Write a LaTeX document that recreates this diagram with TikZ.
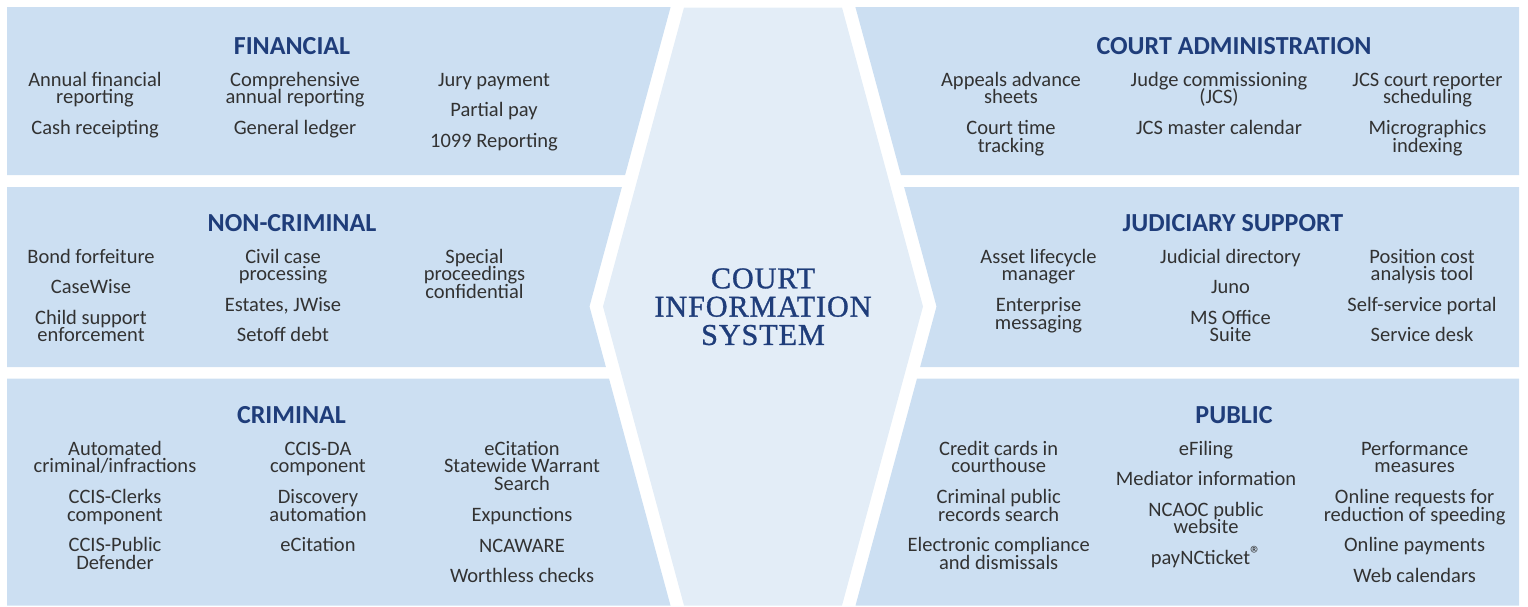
\documentclass[tikz,border=0pt]{standalone}
\usepackage{fontspec}
\setmainfont{Carlito}
\newfontfamily\titlefont[LetterSpace=3,FakeBold=1]{Liberation Serif}

\definecolor{panelblue}{RGB}{204,223,242}
\definecolor{hexblue}{RGB}{227,237,247}
\definecolor{headblue}{RGB}{31,61,122}
\definecolor{itemgray}{RGB}{50,50,50}

% multi-line nodes sit on the baseline of their last line
\tikzset{
  panel/.style={fill=panelblue},
  hexa/.style={fill=hexblue},
  head/.style={anchor=base, inner sep=0pt, text=headblue,
    font=\fontsize{26}{28}\selectfont\bfseries},
  itm/.style={anchor=base, inner sep=0pt, align=center, text=itemgray,
    font=\fontsize{20.5}{17.7}\selectfont},
  ttl/.style={anchor=base, inner sep=0pt, align=center, text=headblue,
    font=\titlefont\fontsize{30.2}{28.3}\selectfont},
}

\begin{document}
\lineskiplimit=-100pt
\begin{tikzpicture}[x=1pt, y=-1pt]
  \useasboundingbox (0,0) rectangle (1528,606);

  % central hexagon
  \fill[hexa] (684,7.5) -- (842,7.5) -- (923,306.5) -- (842,605.5)
              -- (684,605.5) -- (603,306.5) -- cycle;

  % left panels
  \fill[panel] (7,7) -- (670.6,7) -- (625.1,175) -- (7,175) -- cycle;
  \fill[panel] (7,187) -- (621.9,187) -- (589.5,306.5) -- (605.9,367) -- (7,367) -- cycle;
  \fill[panel] (7,378.5) -- (609.0,378.5) -- (670.5,605.5) -- (7,605.5) -- cycle;

  % right panels
  \fill[panel] (1519,7) -- (855.4,7) -- (900.9,175) -- (1519,175) -- cycle;
  \fill[panel] (1519,187) -- (904.1,187) -- (936.5,306.5) -- (920.1,367) -- (1519,367) -- cycle;
  \fill[panel] (1519,378.5) -- (917.0,378.5) -- (855.5,605.5) -- (1519,605.5) -- cycle;

  % centre title
  \node[ttl] (cis) at (763,344.9) {COURT\\INFORMATION\\SYSTEM};

  % ---- Financial ----
  \node[head] (fin) at (292,54) {FINANCIAL};
  \node[itm] (fin11) at (95,103.7)  {Annual financial\\reporting};
  \node[itm] (fin12) at (95,134.3)  {Cash receipting};
  \node[itm] (fin21) at (295,103.7) {Comprehensive\\annual reporting};
  \node[itm] (fin22) at (295,134.3) {General ledger};
  \node[itm] (fin31) at (494,86)    {Jury payment};
  \node[itm] (fin32) at (494,116.6) {Partial pay};
  \node[itm] (fin33) at (494,147.2) {1099 Reporting};

  % ---- Court administration ----
  \node[head] (adm) at (1234,54) {COURT ADMINISTRATION};
  \node[itm] (adm11) at (1011,103.7)   {Appeals advance\\sheets};
  \node[itm] (adm12) at (1011,152)     {Court time\\tracking};
  \node[itm] (adm21) at (1219,103.7)   {Judge commissioning\\(JCS)};
  \node[itm] (adm22) at (1219,134.3)   {JCS master calendar};
  \node[itm] (adm31) at (1427.5,103.7) {JCS court reporter\\scheduling};
  \node[itm] (adm32) at (1427.5,152)   {Micrographics\\indexing};

  % ---- Non-criminal ----
  \node[head] (ncr) at (292,231) {NON-CRIMINAL};
  \node[itm] (ncr11) at (91,263)     {Bond forfeiture};
  \node[itm] (ncr12) at (91,293.6)   {CaseWise};
  \node[itm] (ncr13) at (91,341.9)   {Child support\\enforcement};
  \node[itm] (ncr21) at (283,280.7)  {Civil case\\processing};
  \node[itm] (ncr22) at (283,311.3)  {Estates, JWise};
  \node[itm] (ncr23) at (283,341.9)  {Setoff debt};
  \node[itm] (ncr31) at (474.5,298.4){Special\\proceedings\\confidential};

  % ---- Judiciary support ----
  \node[head] (jud) at (1233,231) {JUDICIARY SUPPORT};
  \node[itm] (jud11) at (1038.5,280.7) {Asset lifecycle\\manager};
  \node[itm] (jud12) at (1038.5,329)   {Enterprise\\messaging};
  \node[itm] (jud21) at (1230.5,263)   {Judicial directory};
  \node[itm] (jud22) at (1230.5,293.6) {Juno};
  \node[itm] (jud23) at (1230.5,341.9) {MS Office\\Suite};
  \node[itm] (jud31) at (1422,280.7)   {Position cost\\analysis tool};
  \node[itm] (jud32) at (1422,311.3)   {Self-service portal};
  \node[itm] (jud33) at (1422,341.9)   {Service desk};

  % ---- Criminal ----
  \node[head] (crm) at (291.5,423) {CRIMINAL};
  \node[itm] (crm11) at (115,472.7) {Automated\\criminal/infractions};
  \node[itm] (crm12) at (115,521)   {CCIS-Clerks\\component};
  \node[itm] (crm13) at (115,569.3) {CCIS-Public\\Defender};
  \node[itm] (crm21) at (318,472.7) {CCIS-DA\\component};
  \node[itm] (crm22) at (318,521)   {Discovery\\automation};
  \node[itm] (crm23) at (318,551.6) {eCitation};
  \node[itm] (crm31) at (522,490.4) {eCitation\\Statewide Warrant\\Search};
  \node[itm] (crm32) at (522,521.6) {Expunctions};
  \node[itm] (crm33) at (522,552.2) {NCAWARE};
  \node[itm] (crm34) at (522,582.8) {Worthless checks};

  % ---- Public ----
  \node[head] (pub) at (1234,423) {PUBLIC};
  \node[itm] (pub11) at (998.7,472.7) {Credit cards in\\courthouse};
  \node[itm] (pub12) at (998.7,521)   {Criminal public\\records search};
  \node[itm] (pub13) at (998.7,569.3) {Electronic compliance\\and dismissals};
  \node[itm] (pub21) at (1206,455)    {eFiling};
  \node[itm] (pub22) at (1206,485.6)  {Mediator information};
  \node[itm] (pub23) at (1206,533.9)  {NCAOC public\\website};
  \node[itm] (pub24) at (1206,564.5)  {payNCticket\raisebox{3pt}{\fontsize{22}{22}\selectfont ®}};
  \node[itm] (pub31) at (1414.6,472.7) {Performance\\measures};
  \node[itm] (pub32) at (1414.6,521)   {Online requests for\\reduction of speeding};
  \node[itm] (pub33) at (1414.6,551.6) {Online payments};
  \node[itm] (pub34) at (1414.6,582.2) {Web calendars};
\end{tikzpicture}
\end{document}
